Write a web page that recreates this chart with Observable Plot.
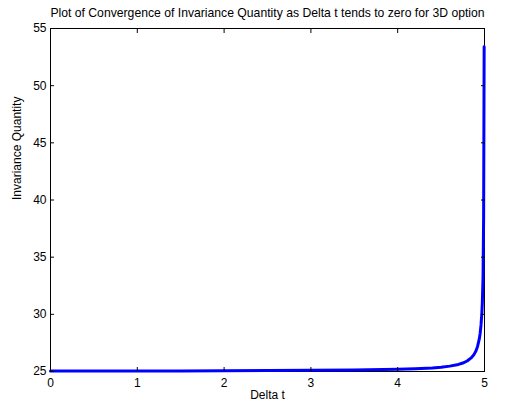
<!DOCTYPE html>
<html>
<head>
<meta charset="utf-8">
<script src="https://cdn.jsdelivr.net/npm/d3@7"></script>
<script src="https://cdn.jsdelivr.net/npm/@observablehq/plot@0.6"></script>
<style>
  html, body { margin: 0; padding: 0; background: #fff; }
  svg { font-family: "Liberation Sans", Arial, sans-serif; }
</style>
</head>
<body>
<div id="chart"></div>
<script>
const titleText = "Plot of Convergence of Invariance Quantity as Delta t tends to zero for 3D option";
const xLabel = "Delta t";
const yLabel = "Invariance Quantity";
const xTicks = [0, 1, 2, 3, 4, 5];
const yTicks = [25, 30, 35, 40, 45, 50, 55];

const deltaT = [0, 0.5, 1, 1.5, 2, 2.5, 3, 3.5, 4, 4.2, 4.4, 4.5, 4.6, 4.7, 4.75, 4.8, 4.85, 4.88, 4.9, 4.92, 4.94, 4.95, 4.96, 4.97, 4.975, 4.983, 4.99, 4.996];
const invariance = [25.04, 25.04, 25.05, 25.05, 25.06, 25.08, 25.1, 25.13, 25.19, 25.24, 25.31, 25.37, 25.47, 25.62, 25.74, 25.92, 26.21, 26.5, 26.78, 27.19, 27.85, 28.35, 29.07, 30.18, 31.0, 33.2, 38.5, 53.4];

const data = deltaT.map((x, i) => ({x, y: invariance[i]}));

const chart = Plot.plot({
  width: 506,
  height: 406,
  marginLeft: 50,
  marginRight: 22,
  marginTop: 28,
  marginBottom: 35,
  style: {fontSize: "12px", fontFamily: "Liberation Sans, Arial, sans-serif", color: "#000", background: "#fff"},
  x: {domain: [0, 5]},
  y: {domain: [25, 55]},
  marks: [
    Plot.frame({stroke: "#000", strokeWidth: 1}),
    Plot.line(data, {x: "x", y: "y", stroke: "#0000ff", strokeWidth: 3}),
    Plot.axisX(xTicks, {anchor: "bottom", tickSize: -4, tickPadding: 11, label: null, fontSize: 12}),
    Plot.axisX(xTicks, {anchor: "top", tickSize: -4, tickFormat: () => "", label: null}),
    Plot.axisY(yTicks, {anchor: "left", tickSize: -4, tickPadding: 8, label: null, fontSize: 12}),
    Plot.axisY(yTicks, {anchor: "right", tickSize: -4, tickFormat: () => "", label: null}),
    Plot.text([titleText], {frameAnchor: "top", dy: -20, fontSize: 12.2, text: d => d}),
    Plot.text([xLabel], {frameAnchor: "bottom", dy: 27, fontSize: 12, text: d => d}),
    Plot.text([yLabel], {frameAnchor: "left", dx: -33, rotate: -90, fontSize: 12, text: d => d})
  ]
});
document.getElementById("chart").appendChild(chart);
</script>
</body>
</html>
